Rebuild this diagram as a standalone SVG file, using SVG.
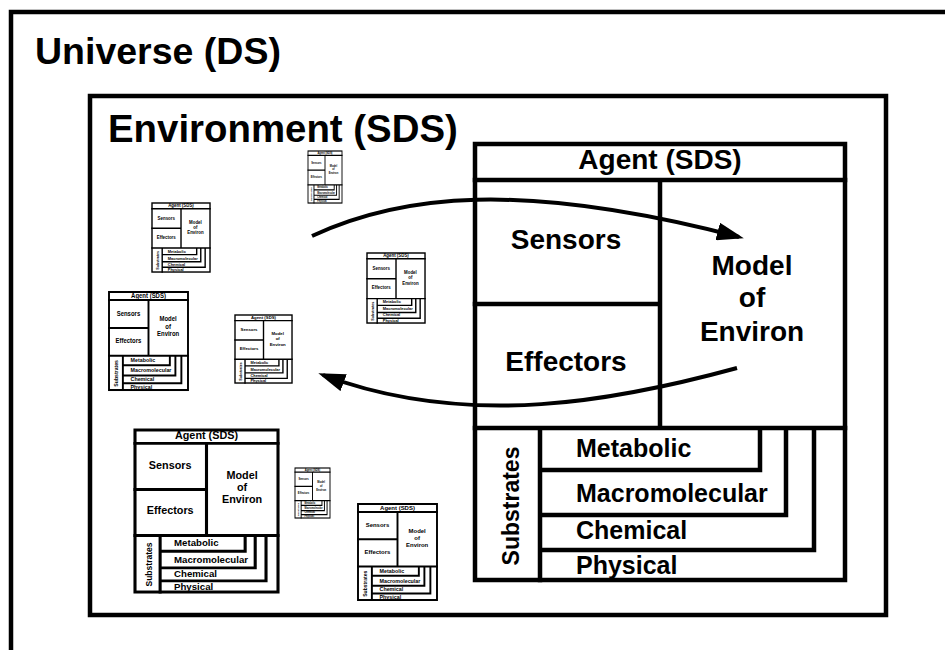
<svg xmlns="http://www.w3.org/2000/svg" width="945" height="650" viewBox="0 0 945 650">
<defs>
<style>
.frame{fill:none;stroke:#000;stroke-width:4.5}
.box{fill:#fff;stroke:#000}
.ln{fill:none;stroke:#000;stroke-linecap:square}
text{font-family:"Liberation Sans",Arial,Helvetica,sans-serif;font-weight:bold;fill:#000}
.big{font-size:37.5px}
.env{font-size:38.4px}
.t28{font-size:28px;text-anchor:middle}
.t25{font-size:25px}
.t23{font-size:23px;text-anchor:middle}
.conn{fill:none;stroke:#000;stroke-width:4}
</style>
<marker id="ah" markerUnits="userSpaceOnUse" markerWidth="27" markerHeight="18" refX="22" refY="9" orient="auto">
<path d="M0,0 L27,9 L0,18 z" fill="#000"/>
</marker>
</defs>
<rect width="945" height="650" fill="#fff"/>
<g id="universe">
<rect class="frame" x="11" y="12" width="960" height="680"/>
<text class="big" x="35" y="64">Universe (DS)</text>
</g>
<g id="environment">
<rect class="frame" x="90" y="96" width="796" height="519"/>
<text class="env" x="108" y="142">Environment (SDS)</text>
</g>

<g id="agent-main" transform="translate(475,144)" style="stroke-width:4.5">
<rect class="box" x="0" y="0" width="370" height="436"/>
<path class="ln" d="M0,36H370 M185,36V284 M0,160H185 M0,284H370 M65,284V436 M285,284V326H65 M311,284V371H65 M339,284V406H65"/>
<text class="t28" x="185" y="25">Agent (SDS)</text>
<text class="t28" x="91" y="105">Sensors</text>
<text class="t28" x="91" y="227">Effectors</text>
<text class="t28" x="277" y="131">Model</text>
<text class="t28" x="277" y="163">of</text>
<text class="t28" x="277" y="197">Environ</text>
<text class="t25" x="101" y="313">Metabolic</text>
<text class="t25" x="101" y="358">Macromolecular</text>
<text class="t25" x="101" y="395">Chemical</text>
<text class="t25" x="101" y="430">Physical</text>
<text class="t23" transform="translate(44,362) rotate(-90)">Substrates</text>
</g>

<g id="agent-2" transform="translate(135,430) scale(0.3865,0.3716)" style="stroke-width:8">
<rect class="box" x="0" y="0" width="370" height="436"/>
<path class="ln" d="M0,36H370 M185,36V284 M0,160H185 M0,284H370 M65,284V436 M285,284V326H65 M311,284V371H65 M339,284V406H65"/>
<text class="t28" x="185" y="25">Agent (SDS)</text>
<text class="t28" x="91" y="105">Sensors</text>
<text class="t28" x="91" y="227">Effectors</text>
<text class="t28" x="277" y="131">Model</text>
<text class="t28" x="277" y="163">of</text>
<text class="t28" x="277" y="197">Environ</text>
<text class="t25" x="101" y="313">Metabolic</text>
<text class="t25" x="101" y="358">Macromolecular</text>
<text class="t25" x="101" y="395">Chemical</text>
<text class="t25" x="101" y="430">Physical</text>
<text class="t23" transform="translate(44,362) rotate(-90)">Substrates</text>
</g>

<g id="agent-3" transform="translate(109,292) scale(0.2135,0.2248)" style="stroke-width:9">
<rect class="box" x="0" y="0" width="370" height="436"/>
<path class="ln" d="M0,36H370 M185,36V284 M0,160H185 M0,284H370 M65,284V436 M285,284V326H65 M311,284V371H65 M339,284V406H65"/>
<text class="t28" x="185" y="25">Agent (SDS)</text>
<text class="t28" x="91" y="105">Sensors</text>
<text class="t28" x="91" y="227">Effectors</text>
<text class="t28" x="277" y="131">Model</text>
<text class="t28" x="277" y="163">of</text>
<text class="t28" x="277" y="197">Environ</text>
<text class="t25" x="101" y="313">Metabolic</text>
<text class="t25" x="101" y="358">Macromolecular</text>
<text class="t25" x="101" y="395">Chemical</text>
<text class="t25" x="101" y="430">Physical</text>
<text class="t23" transform="translate(44,362) rotate(-90)">Substrates</text>
</g>

<g id="agent-4" transform="translate(152,203) scale(0.1568,0.1583)" style="stroke-width:9">
<rect class="box" x="0" y="0" width="370" height="436"/>
<path class="ln" d="M0,36H370 M185,36V284 M0,160H185 M0,284H370 M65,284V436 M285,284V326H65 M311,284V371H65 M339,284V406H65"/>
<text class="t28" x="185" y="25">Agent (SDS)</text>
<text class="t28" x="91" y="105">Sensors</text>
<text class="t28" x="91" y="227">Effectors</text>
<text class="t28" x="277" y="131">Model</text>
<text class="t28" x="277" y="163">of</text>
<text class="t28" x="277" y="197">Environ</text>
<text class="t25" x="101" y="313">Metabolic</text>
<text class="t25" x="101" y="358">Macromolecular</text>
<text class="t25" x="101" y="395">Chemical</text>
<text class="t25" x="101" y="430">Physical</text>
<text class="t23" transform="translate(44,362) rotate(-90)">Substrates</text>
</g>

<g id="agent-5" transform="translate(308,151) scale(0.0919,0.1193)" style="stroke-width:10">
<rect class="box" x="0" y="0" width="370" height="436"/>
<path class="ln" d="M0,36H370 M185,36V284 M0,160H185 M0,284H370 M65,284V436 M285,284V326H65 M311,284V371H65 M339,284V406H65"/>
<text class="t28" x="185" y="25">Agent (SDS)</text>
<text class="t28" x="91" y="105">Sensors</text>
<text class="t28" x="91" y="227">Effectors</text>
<text class="t28" x="277" y="131">Model</text>
<text class="t28" x="277" y="163">of</text>
<text class="t28" x="277" y="197">Environ</text>
<text class="t25" x="101" y="313">Metabolic</text>
<text class="t25" x="101" y="358">Macromolecular</text>
<text class="t25" x="101" y="395">Chemical</text>
<text class="t25" x="101" y="430">Physical</text>
<text class="t23" transform="translate(44,362) rotate(-90)">Substrates</text>
</g>

<g id="agent-6" transform="translate(235,315) scale(0.1541,0.156)" style="stroke-width:9">
<rect class="box" x="0" y="0" width="370" height="436"/>
<path class="ln" d="M0,36H370 M185,36V284 M0,160H185 M0,284H370 M65,284V436 M285,284V326H65 M311,284V371H65 M339,284V406H65"/>
<text class="t28" x="185" y="25">Agent (SDS)</text>
<text class="t28" x="91" y="105">Sensors</text>
<text class="t28" x="91" y="227">Effectors</text>
<text class="t28" x="277" y="131">Model</text>
<text class="t28" x="277" y="163">of</text>
<text class="t28" x="277" y="197">Environ</text>
<text class="t25" x="101" y="313">Metabolic</text>
<text class="t25" x="101" y="358">Macromolecular</text>
<text class="t25" x="101" y="395">Chemical</text>
<text class="t25" x="101" y="430">Physical</text>
<text class="t23" transform="translate(44,362) rotate(-90)">Substrates</text>
</g>

<g id="agent-7" transform="translate(367,253) scale(0.1568,0.1606)" style="stroke-width:9">
<rect class="box" x="0" y="0" width="370" height="436"/>
<path class="ln" d="M0,36H370 M185,36V284 M0,160H185 M0,284H370 M65,284V436 M285,284V326H65 M311,284V371H65 M339,284V406H65"/>
<text class="t28" x="185" y="25">Agent (SDS)</text>
<text class="t28" x="91" y="105">Sensors</text>
<text class="t28" x="91" y="227">Effectors</text>
<text class="t28" x="277" y="131">Model</text>
<text class="t28" x="277" y="163">of</text>
<text class="t28" x="277" y="197">Environ</text>
<text class="t25" x="101" y="313">Metabolic</text>
<text class="t25" x="101" y="358">Macromolecular</text>
<text class="t25" x="101" y="395">Chemical</text>
<text class="t25" x="101" y="430">Physical</text>
<text class="t23" transform="translate(44,362) rotate(-90)">Substrates</text>
</g>

<g id="agent-8" transform="translate(295,468) scale(0.0946,0.1147)" style="stroke-width:10">
<rect class="box" x="0" y="0" width="370" height="436"/>
<path class="ln" d="M0,36H370 M185,36V284 M0,160H185 M0,284H370 M65,284V436 M285,284V326H65 M311,284V371H65 M339,284V406H65"/>
<text class="t28" x="185" y="25">Agent (SDS)</text>
<text class="t28" x="91" y="105">Sensors</text>
<text class="t28" x="91" y="227">Effectors</text>
<text class="t28" x="277" y="131">Model</text>
<text class="t28" x="277" y="163">of</text>
<text class="t28" x="277" y="197">Environ</text>
<text class="t25" x="101" y="313">Metabolic</text>
<text class="t25" x="101" y="358">Macromolecular</text>
<text class="t25" x="101" y="395">Chemical</text>
<text class="t25" x="101" y="430">Physical</text>
<text class="t23" transform="translate(44,362) rotate(-90)">Substrates</text>
</g>

<g id="agent-9" transform="translate(358,504) scale(0.2135,0.2202)" style="stroke-width:9">
<rect class="box" x="0" y="0" width="370" height="436"/>
<path class="ln" d="M0,36H370 M185,36V284 M0,160H185 M0,284H370 M65,284V436 M285,284V326H65 M311,284V371H65 M339,284V406H65"/>
<text class="t28" x="185" y="25">Agent (SDS)</text>
<text class="t28" x="91" y="105">Sensors</text>
<text class="t28" x="91" y="227">Effectors</text>
<text class="t28" x="277" y="131">Model</text>
<text class="t28" x="277" y="163">of</text>
<text class="t28" x="277" y="197">Environ</text>
<text class="t25" x="101" y="313">Metabolic</text>
<text class="t25" x="101" y="358">Macromolecular</text>
<text class="t25" x="101" y="395">Chemical</text>
<text class="t25" x="101" y="430">Physical</text>
<text class="t23" transform="translate(44,362) rotate(-90)">Substrates</text>
</g>

<g id="connectors">
<path class="conn" d="M312,236 C400,195 520,180 739,237" marker-end="url(#ah)"/>
<path class="conn" d="M737,368 C620,400 470,430 323,375" marker-end="url(#ah)"/>
</g>
</svg>
